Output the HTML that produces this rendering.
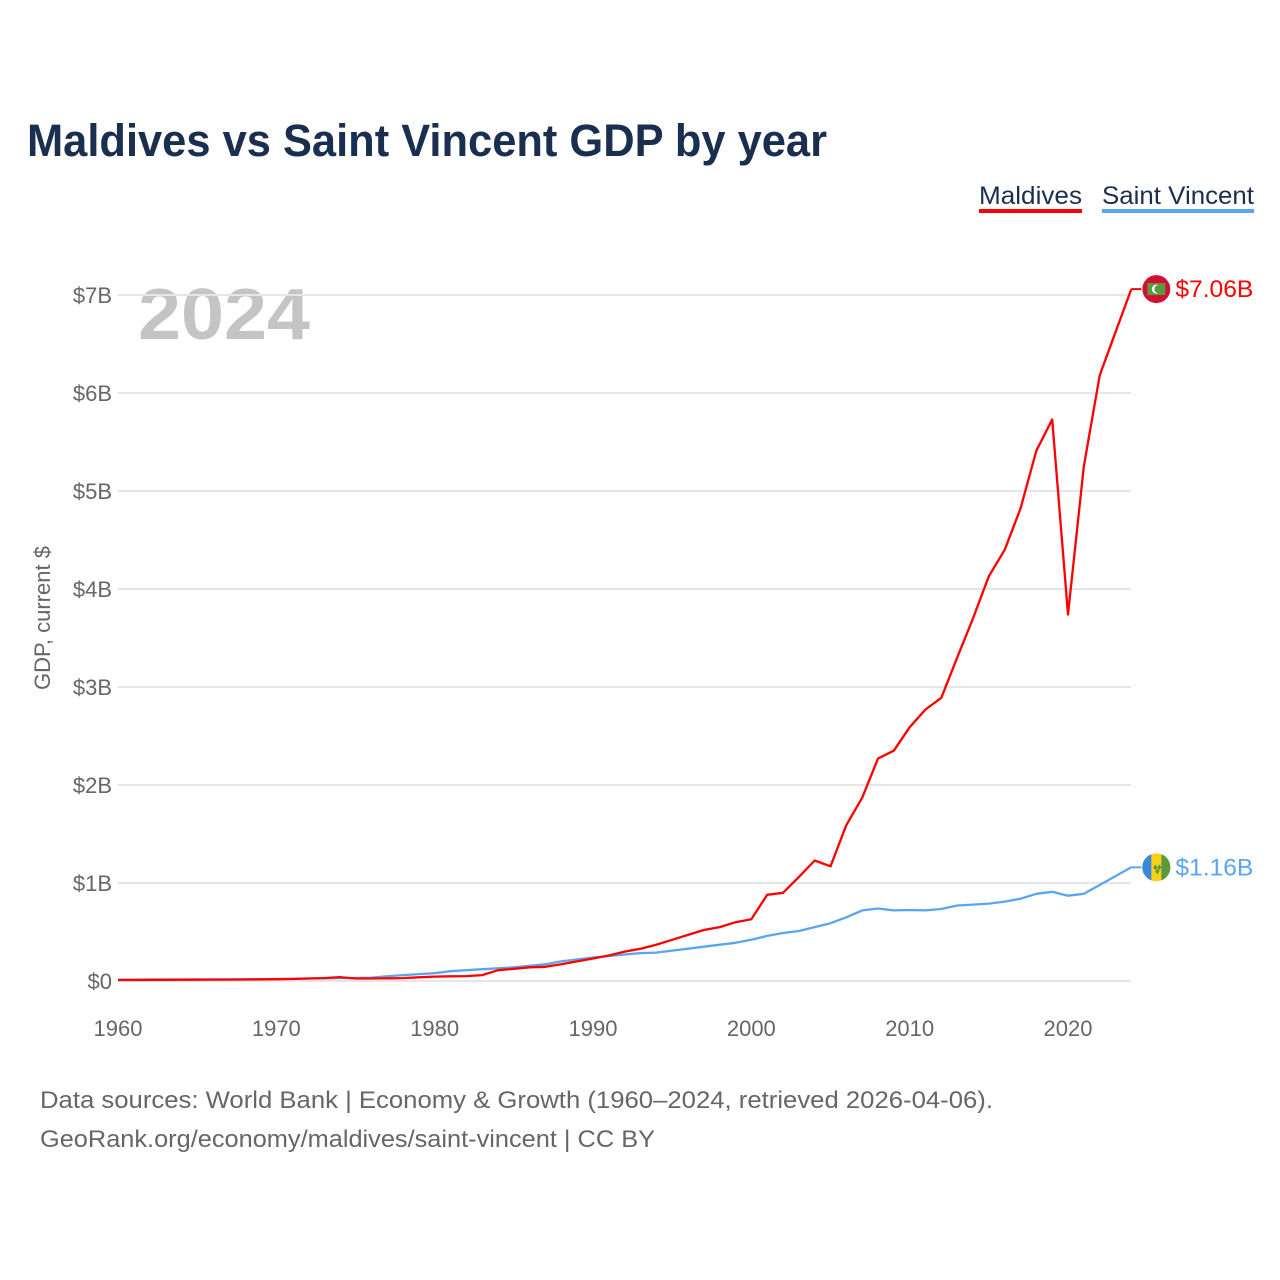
<!DOCTYPE html>
<html><head><meta charset="utf-8"><style>
body{margin:0;background:#fff;font-family:"Liberation Sans",sans-serif;}
#wrap{position:relative;width:1280px;height:1280px;overflow:hidden;}
</style></head><body>
<div id="wrap">
<svg id="chart" width="1280" height="1280">
<text x="27" y="156" font-size="45" font-weight="bold" fill="#1a2e4f" textLength="800" lengthAdjust="spacingAndGlyphs">Maldives vs Saint Vincent GDP by year</text>
<g><text x="979" y="204" font-size="25" fill="#1a2e4f" textLength="103" lengthAdjust="spacingAndGlyphs">Maldives</text><rect x="979" y="209" width="103" height="4" fill="#ff0000"/></g>
<g><text x="1102" y="204" font-size="25" fill="#1a2e4f" textLength="152" lengthAdjust="spacingAndGlyphs">Saint Vincent</text><rect x="1102" y="209" width="152" height="4" fill="#5aa5ef"/></g>
<text x="138" y="339" font-size="72" font-weight="bold" fill="#c4c4c4" textLength="172" lengthAdjust="spacingAndGlyphs">2024</text>
<text transform="translate(50,618) rotate(-90)" text-anchor="middle" font-size="22" fill="#666">GDP, current $</text>
<g id="grid"></g><g id="lines"></g><g id="ends"></g>
<text x="40" y="1108" font-size="24" fill="#666" textLength="953" lengthAdjust="spacingAndGlyphs">Data sources: World Bank | Economy &amp; Growth (1960–2024, retrieved 2026-04-06).</text>
<text x="40" y="1147" font-size="24" fill="#666" textLength="615" lengthAdjust="spacingAndGlyphs">GeoRank.org/economy/maldives/saint-vincent | CC BY</text>
</svg></div>
<script>
const years=[];for(let y=1960;y<=2024;y++)years.push(y);
const maldives=[0.01,0.01,0.012,0.012,0.013,0.013,0.014,0.014,0.015,0.016,0.018,0.02,0.025,0.03,0.04,0.025,0.025,0.028,0.03,0.038,0.045,0.048,0.05,0.06,0.11,0.125,0.14,0.145,0.17,0.2,0.23,0.26,0.3,0.33,0.37,0.42,0.47,0.52,0.55,0.6,0.63,0.88,0.9,1.06,1.23,1.17,1.59,1.87,2.27,2.35,2.59,2.77,2.89,3.3,3.7,4.13,4.4,4.82,5.41,5.73,3.74,5.25,6.18,6.62,7.06];
const vincent=[0.013,0.014,0.015,0.015,0.015,0.016,0.016,0.017,0.017,0.019,0.02,0.022,0.025,0.028,0.03,0.032,0.035,0.048,0.06,0.07,0.08,0.1,0.11,0.12,0.13,0.14,0.155,0.17,0.2,0.22,0.24,0.255,0.27,0.285,0.29,0.31,0.33,0.35,0.37,0.39,0.42,0.46,0.49,0.51,0.55,0.59,0.65,0.72,0.74,0.72,0.725,0.72,0.735,0.77,0.78,0.79,0.81,0.84,0.89,0.91,0.87,0.89,0.98,1.07,1.16];
const yTicks=[0,1,2,3,4,5,6,7];
const yLabels=["$0","$1B","$2B","$3B","$4B","$5B","$6B","$7B"];
const xTicks=[1960,1970,1980,1990,2000,2010,2020];
const NS='http://www.w3.org/2000/svg';
const X=v=>118+(v-1960)*(950/60);
const Y=v=>981-v*98;
function mk(t,a,p){const e=document.createElementNS(NS,t);for(const k in a)e.setAttribute(k,a[k]);p.appendChild(e);return e;}
const grid=document.getElementById('grid');
yTicks.forEach((t,i)=>{
 const l=mk('line',{x1:118,x2:1131,y1:Y(t),y2:Y(t),stroke:'#e6e6e6','stroke-width':2},grid);
 
 
 const tx=mk('text',{x:112,y:Y(t)+8,'text-anchor':'end','font-size':22,fill:'#666'},grid);
 tx.textContent=yLabels[i];
 
 
});
xTicks.forEach(t=>{
 const tx=mk('text',{x:X(t),y:1036,'text-anchor':'middle','font-size':22,fill:'#666'},grid);
 tx.textContent=t;
 
 
});
const lines=document.getElementById('lines');
function series(data,color,name){
 const d=data.map((v,i)=>(i?'L':'M')+X(years[i]).toFixed(1)+','+Y(v).toFixed(1)).join('');
 const p=mk('path',{d:d,fill:'none',stroke:color,'stroke-width':2.3,'stroke-linejoin':'round'},lines);
 
 
}
series(vincent,'#5aa5ef','line-saint-vincent');
series(maldives,'#ff0000','line-maldives');
const ends=document.getElementById('ends');
function endLabel(data,color,name,flag){
 const v=data[data.length-1],x=X(2024),y=Y(v);
 mk('line',{x1:x,x2:x+10,y1:y,y2:y,stroke:color,'stroke-width':2},ends);
 const g=mk('g',{},ends);
 
 
 flag(g,x+25,y);
 const t=mk('text',{x:x+44,y:y+8,'font-size':24,fill:color,textLength:78,lengthAdjust:'spacingAndGlyphs'},ends);
 t.textContent='$'+v.toFixed(2)+'B';
 
 
}
endLabel(maldives,'#ff0000','maldives',(g,cx,cy)=>{
 mk('circle',{cx:cx,cy:cy,r:14,fill:'#d21034'},g);
 mk('rect',{x:cx-9,y:cy-6,width:18,height:12,fill:'#5a9a3c'},g);
 mk('circle',{cx:cx,cy:cy,r:4.5,fill:'#fff'},g);
 mk('circle',{cx:cx+2,cy:cy,r:4,fill:'#5a9a3c'},g);
});
endLabel(vincent,'#5aa5ef','saint-vincent',(g,cx,cy)=>{
 mk('circle',{cx:cx,cy:cy,r:14,fill:'#f7d116'},g);
 mk('path',{d:`M${cx-5},${cy-13.1}A14,14 0 0 0 ${cx-5},${cy+13.1}Z`,fill:'#3a86e0'},g);
 mk('path',{d:`M${cx+5},${cy-13.1}A14,14 0 0 1 ${cx+5},${cy+13.1}Z`,fill:'#5a9a3c'},g);
 mk('path',{d:`M${cx-3},${cy}l2,-3l2,3l-2,3z M${cx+1},${cy}l2,-3l2,3l-2,3z M${cx-1},${cy+4}l2,-3l2,3l-2,3z`,fill:'#5a9a3c'},g);
});
</script>
</body></html>
